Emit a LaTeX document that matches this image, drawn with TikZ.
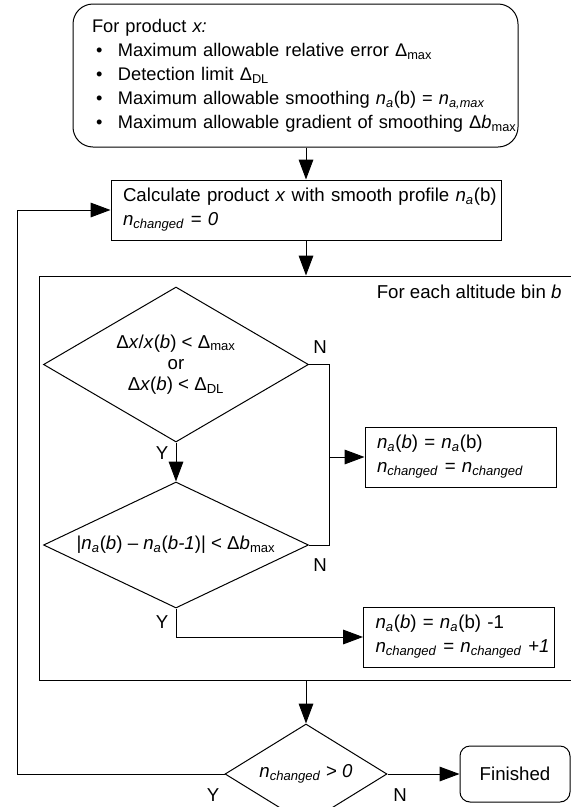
\documentclass[tikz,border=0pt]{standalone}
\usepackage{fontspec}
\setmainfont{Liberation Sans}
\usetikzlibrary{arrows.meta,shapes.geometric}

\newcommand{\nA}{\textit{n}\textsubscript{\textit{a}}}
\newcommand{\nChg}{\textit{n}\textsubscript{\textit{changed}}}
\newcommand{\bulletline}[1]{\mbox{\hspace*{3pt}\makebox[16.5pt][l]{\textbullet}#1}}

\begin{document}
\begin{tikzpicture}[x=0.75pt, y=-0.75pt, line width=0.75pt,
    font=\fontsize{14}{18}\selectfont,
    >={Triangle[length=15pt,width=11pt]},
    process/.style={draw, rectangle, align=left, inner xsep=9pt, minimum height=45pt},
    decision/.style={draw, diamond, inner sep=0pt, align=center},
    terminal/.style={draw, rectangle, rounded corners=7.5pt, align=center},
    yn/.style={inner sep=0pt}]
  \useasboundingbox (0,0) rectangle (571,807);

  % inputs
  \node[terminal, rounded corners=15pt, align=left, minimum width=333.75pt, minimum height=107.25pt,
        text width=305.25pt, inner xsep=14.25pt, font=\fontsize{13.7}{18}\selectfont] (input) at (295.5,75.5)
    {For product \textit{x:}\\
     \bulletline{Maximum allowable relative error Δ\textsubscript{max}}\\
     \bulletline{Detection limit Δ\textsubscript{DL}}\\
     \bulletline{Maximum allowable smoothing \nA(b) = \textit{n}\textsubscript{\textit{a,max}}}\\
     \bulletline{Maximum allowable gradient of smoothing Δ\textit{b}\textsubscript{max}}};

  \node[process, text width=274.5pt] (calc) at (306,210)
    {\mbox{Calculate product \textit{x} with smooth profile \nA(b)}\\
     \nChg{} = \textit{0}};

  % loop over altitude bins
  \node[draw, rectangle, inner sep=0pt, minimum width=402pt, minimum height=303pt] (loop) at (307,478) {};
  \node[yn, anchor=east] (bin) at (562,292) {For each altitude bin \textit{b}};

  \node[decision, aspect=1.7, minimum width=198.75pt, minimum height=116.25pt,
        font=\fontsize{14}{16}\selectfont] (check1) at (176,364.5)
    {Δ\textit{x}/\textit{x}(\textit{b}) < Δ\textsubscript{max}\\
     or\\
     Δ\textit{x}(\textit{b}) < Δ\textsubscript{DL}};
  \node[decision, aspect=2.1, minimum width=198.75pt, minimum height=94.5pt] (check2) at (176,545)
    {|\nA(\textit{b}) – \nA(\textit{b-1})| < Δ\textit{b}\textsubscript{max}};

  \node[process, text width=125.25pt] (keep) at (460.5,457)
    {\nA(\textit{b}) = \nA(b)\\
     \mbox{\nChg{} = \nChg}};
  \node[process, text width=125.25pt] (reduce) at (459,637)
    {\nA(\textit{b}) = \nA(b) -1\\
     \mbox{\nChg{} = \nChg{} \textit{+1}}};

  % stop criterion
  \node[decision, aspect=1.62, minimum width=121.5pt, minimum height=75pt] (check3) at (306,774)
    {\nChg{} > \textit{0}};
  \node[terminal, minimum width=82.5pt, minimum height=42pt] (finish) at (515,774) {Finished};

  \coordinate (back) at (17,0);

  \draw[->] (input.south -| calc.north) -- (calc.north);
  \draw[->] (calc.south) -- (calc.south |- loop.north);
  \draw[->] (check1.south) -- (check2.north);
  \draw (check1.east) -- ++(20,0) coordinate (nturn) -- (nturn |- check2.east) -- (check2.east);
  \draw[->] (nturn |- keep.west) -- (keep.west);
  \draw[->] (check2.south) -- (check2.south |- reduce.west) -- (reduce.west);
  \draw[->] (loop.south -| check3.north) -- (check3.north);
  \draw[->] (check3.east) -- (finish.west);
  \draw[->] (check3.west) -- (check3.west -| back) -- (back |- calc.west) -- (calc.west);

  \node[yn] (n1) at (320,347) {N};
  \node[yn] (y1) at (162,453) {Y};
  \node[yn] (n2) at (320,565) {N};
  \node[yn] (y2) at (162,622) {Y};
  \node[yn] (y3) at (213,795) {Y};
  \node[yn] (n3) at (400,795) {N};
\end{tikzpicture}
\end{document}
